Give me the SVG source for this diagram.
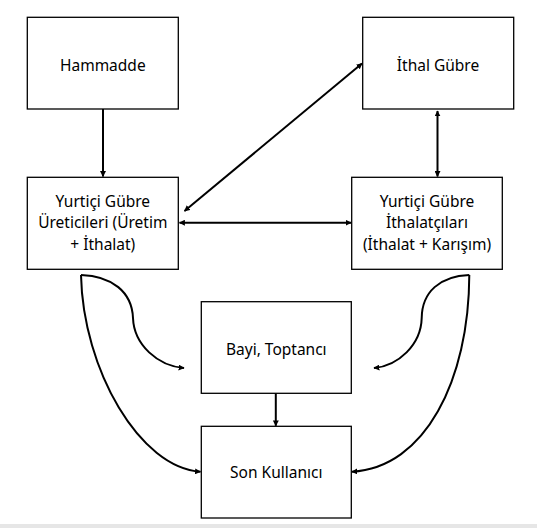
<svg xmlns="http://www.w3.org/2000/svg" width="537" height="528" viewBox="0 0 537 528">
<style>
.box{fill:#fff;stroke:#000;stroke-width:1.3}
.lbl{font-family:"Noto Sans","Open Sans","Liberation Sans",sans-serif;font-size:15.5px;fill:#000;text-anchor:middle}
.con{fill:none;stroke:#000;stroke-width:2}
</style>
<defs>
<marker id="ah" viewBox="0 0 10 10" refX="9" refY="5" markerWidth="6" markerHeight="6" markerUnits="userSpaceOnUse" orient="auto-start-reverse">
<path d="M0 0 L10 5 L0 10 Z" fill="#000"/>
</marker>
</defs>
<rect x="0" y="0" width="537" height="528" fill="#fff"/>
<rect x="0" y="524" width="537" height="4" fill="#e6e6e6"/>
<g id="hammadde"><rect class="box" x="27.3" y="17.3" width="151" height="91.7"/><text class="lbl" x="102.8" y="70.5">Hammadde</text></g>
<g id="ithal-gubre"><rect class="box" x="362.7" y="17.3" width="151" height="91.7"/><text class="lbl" x="438" y="70.5">İthal Gübre</text></g>
<g id="ureticiler"><rect class="box" x="27.3" y="177.3" width="151" height="92"/><text class="lbl" x="102.8" y="206.5">Yurtiçi Gübre</text><text class="lbl" x="102.8" y="228">Üreticileri (Üretim</text><text class="lbl" x="102.8" y="249.5">+ İthalat)</text></g>
<g id="ithalatcilar"><rect class="box" x="351.7" y="177.3" width="150.6" height="92"/><text class="lbl" x="427" y="206.5">Yurtiçi Gübre</text><text class="lbl" x="427" y="228">İthalatçıları</text><text class="lbl" x="427" y="249.5">(İthalat + Karışım)</text></g>
<g id="bayi"><rect class="box" x="201.3" y="301.7" width="150" height="91.6"/><text class="lbl" x="276.3" y="355">Bayi, Toptancı</text></g>
<g id="son-kullanici"><rect class="box" x="201.3" y="426.3" width="150" height="91.7"/><text class="lbl" x="276.3" y="478.3">Son Kullanıcı</text></g>
<g id="connectors">
<line class="con" x1="103" y1="109" x2="103" y2="176.5" marker-end="url(#ah)"/>
<line class="con" x1="437.5" y1="111" x2="437.5" y2="176.5" marker-start="url(#ah)" marker-end="url(#ah)"/>
<line class="con" x1="179.5" y1="222.7" x2="351" y2="222.7" marker-start="url(#ah)" marker-end="url(#ah)"/>
<line class="con" x1="184.5" y1="211" x2="362" y2="63.5" marker-start="url(#ah)" marker-end="url(#ah)"/>
<line class="con" x1="275.8" y1="393.3" x2="275.8" y2="425.8" marker-end="url(#ah)"/>
<path class="con" d="M81 275 C112 276 132 292 133 318 C134 345 158 366 184 368" marker-end="url(#ah)"/>
<path class="con" d="M81 275 C83 370 140 468 200.5 471.7" marker-end="url(#ah)"/>
<path class="con" d="M469.3 275 C440 276 422 292 421.7 318 C421 345 398 366 374 368" marker-end="url(#ah)"/>
<path class="con" d="M469.3 275 C469 380 425 468 352 471.7" marker-end="url(#ah)"/>
</g>
</svg>
